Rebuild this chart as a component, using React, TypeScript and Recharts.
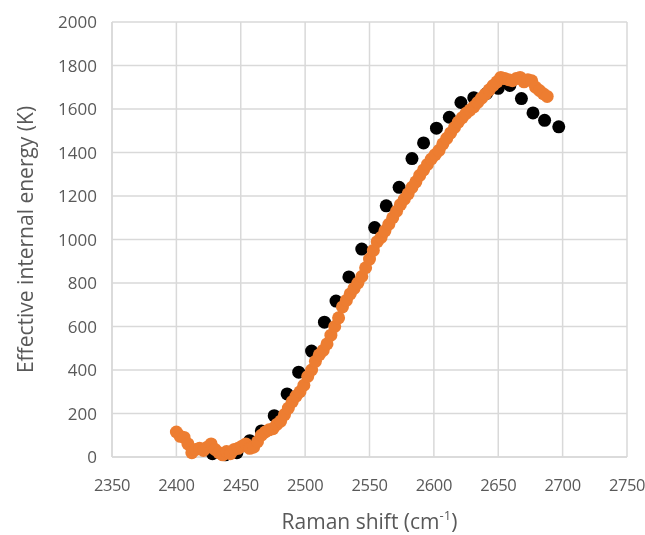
import React from "react";
import { ScatterChart, Scatter, XAxis, YAxis, CartesianGrid } from "recharts";

const xTicks = [2350, 2400, 2450, 2500, 2550, 2600, 2650, 2700, 2750];
const yTicks = [0, 200, 400, 600, 800, 1000, 1200, 1400, 1600, 1800, 2000];

const blackX = [2428, 2438, 2447, 2457, 2466, 2476, 2486, 2495, 2505, 2515, 2524, 2534, 2544, 2554, 2563, 2573, 2583, 2592, 2602, 2612, 2621, 2631, 2641, 2650, 2659, 2668, 2677, 2686, 2697];
const blackY = [15, 10, 20, 75, 120, 190, 290, 390, 487, 620, 717, 828, 956, 1055, 1155, 1240, 1372, 1444, 1512, 1562, 1630, 1652, 1672, 1695, 1708, 1648, 1582, 1548, 1518];

const orangeX = [2400, 2403, 2406, 2409, 2412, 2415, 2418, 2421, 2424, 2427, 2430, 2433, 2436, 2439, 2442, 2445, 2448, 2451, 2454, 2457, 2460, 2463, 2466, 2469, 2472, 2475, 2478, 2481, 2484, 2487, 2490, 2493, 2496, 2499, 2502, 2505, 2508, 2511, 2514, 2517, 2520, 2523, 2526, 2529, 2532, 2535, 2538, 2541, 2544, 2547, 2550, 2553, 2556, 2559, 2562, 2565, 2568, 2571, 2574, 2577, 2580, 2583, 2586, 2589, 2592, 2595, 2598, 2601, 2604, 2607, 2610, 2613, 2616, 2619, 2622, 2625, 2628, 2631, 2634, 2637, 2640, 2643, 2646, 2649, 2652, 2655, 2658, 2661, 2664, 2667, 2670, 2673, 2676, 2679, 2682, 2685, 2688];
const orangeY = [115, 95, 90, 60, 20, 35, 40, 30, 45, 60, 35, 20, 10, 25, 15, 35, 40, 50, 60, 40, 45, 70, 100, 115, 125, 130, 150, 165, 195, 225, 255, 280, 300, 330, 370, 400, 440, 470, 490, 520, 560, 600, 640, 690, 720, 750, 775, 800, 830, 870, 910, 950, 990, 1010, 1040, 1070, 1100, 1130, 1160, 1185, 1210, 1240, 1265, 1295, 1320, 1345, 1370, 1390, 1410, 1440, 1465, 1490, 1515, 1540, 1560, 1580, 1595, 1610, 1630, 1650, 1668, 1688, 1708, 1725, 1745, 1740, 1735, 1730, 1740, 1745, 1725, 1735, 1730, 1700, 1685, 1670, 1658];

const blackData = blackX.map((x, i) => ({ x, y: blackY[i] }));
const orangeData = orangeX.map((x, i) => ({ x, y: orangeY[i] }));

const FONT = "'Open Sans', sans-serif";
const TEXT = "#595959";
const GRID = "#d9d9d9";

const Dot = (color: string) => (props: any) => (
  <circle cx={props.cx} cy={props.cy} r={6.5} fill={color} />
);

const XLabel = (props: any) => {
  const vb = props.viewBox || {};
  const cx = vb.x + vb.width / 2;
  return (
    <text x={cx} y={vb.y + 72} textAnchor="middle" fill={TEXT} fontSize={21} fontFamily={FONT}>
      <tspan>Raman shift (cm</tspan>
      <tspan fontSize={13} dy={-9}>-1</tspan>
      <tspan dy={9}>)</tspan>
    </text>
  );
};

const YLabel = (props: any) => {
  const vb = props.viewBox || {};
  const cy = vb.y + vb.height / 2;
  const x = 25;
  return (
    <text x={x} y={cy} textAnchor="middle" fill={TEXT} fontSize={21} fontFamily={FONT} transform={`rotate(-90, ${x}, ${cy})`} dominantBaseline="central">
      Effective internal energy (K)
    </text>
  );
};

export default function App() {
  return (
    <div style={{ position: "fixed", left: 0, top: 0, width: 645, height: 535 }}>
      <ScatterChart width={645} height={535} margin={{ top: 22, right: 18, bottom: 0, left: 0 }}>
        <CartesianGrid stroke={GRID} strokeWidth={1.5} />
        <XAxis
          type="number"
          dataKey="x"
          domain={[2350, 2750]}
          ticks={xTicks}
          interval={0}
          tickLine={false}
          axisLine={{ stroke: GRID, strokeWidth: 1.5 }}
          tick={{ fill: TEXT, fontSize: 16.5, fontFamily: FONT, letterSpacing: -0.4 }}
          tickMargin={16}
          height={78}
          label={<XLabel />}
        />
        <YAxis
          type="number"
          dataKey="y"
          domain={[0, 2000]}
          ticks={yTicks}
          interval={0}
          tickLine={false}
          axisLine={{ stroke: GRID, strokeWidth: 1.5 }}
          tick={{ fill: TEXT, fontSize: 17, fontFamily: FONT }}
          tickMargin={9}
          width={112}
          label={<YLabel />}
        />
        <Scatter data={blackData} fill="#000000" shape={Dot("#000000")} isAnimationActive={false} />
        <Scatter data={orangeData} fill="#ED7D31" shape={Dot("#ED7D31")} isAnimationActive={false} />
      </ScatterChart>
    </div>
  );
}
